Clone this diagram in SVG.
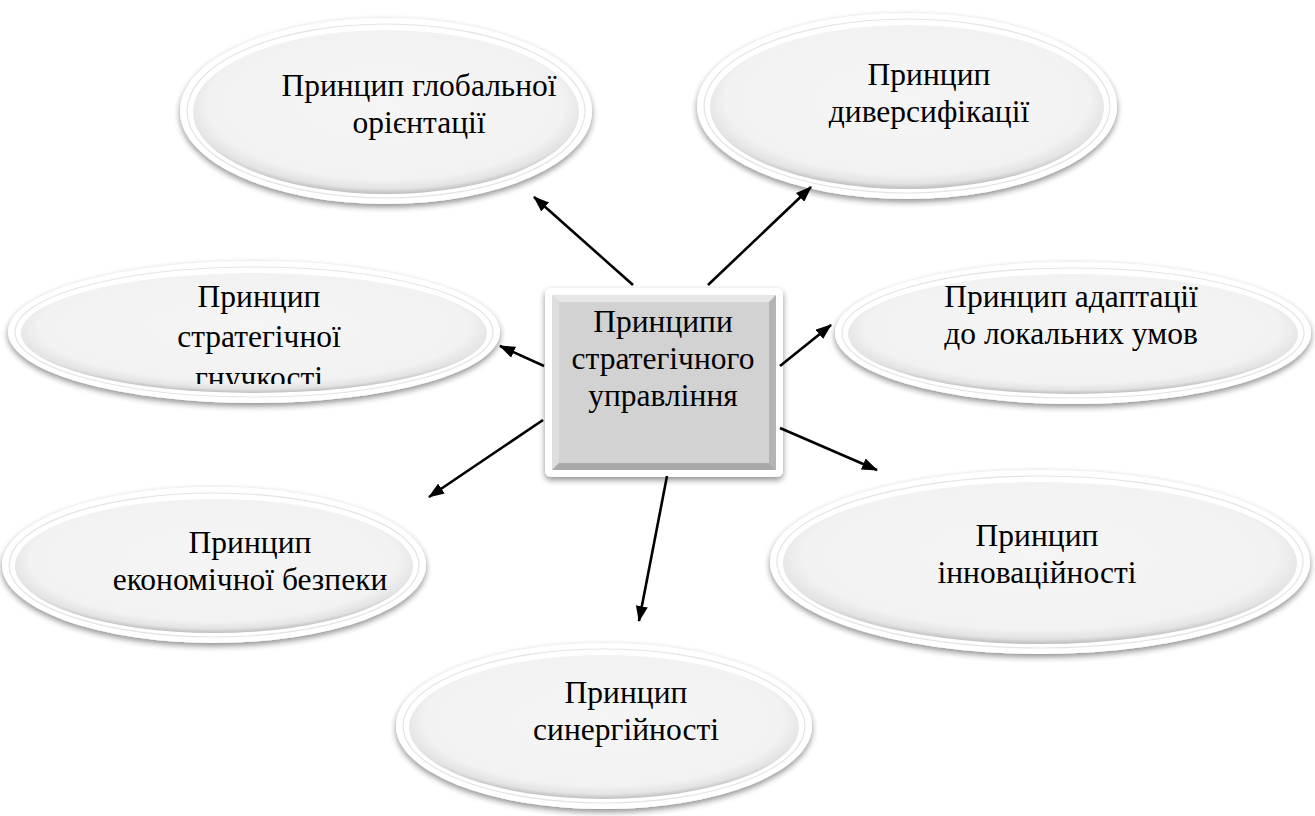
<svg xmlns="http://www.w3.org/2000/svg" width="1315" height="816" viewBox="0 0 1315 816">
<style>
.lbl{font-family:'Liberation Serif','DejaVu Serif',serif;font-size:31.5px;fill:#000;text-anchor:middle}
.outer{fill:#fff;filter:url(#sh)}
.ring{fill:none;stroke:#e4e4e4;stroke-width:1.2}
.inner{fill:url(#eg)}
.arr{stroke:#000;stroke-width:2.6;fill:none;marker-end:url(#ah)}
</style>
<defs>
<filter id="sh" x="-10%" y="-10%" width="120%" height="130%">
<feGaussianBlur in="SourceAlpha" stdDeviation="3"/>
<feOffset dx="0" dy="3" result="b"/>
<feComponentTransfer><feFuncA type="linear" slope="0.45"/></feComponentTransfer>
<feMerge><feMergeNode/><feMergeNode in="SourceGraphic"/></feMerge>
</filter>
<radialGradient id="eg" cx="0.5" cy="0.45" r="0.55">
<stop offset="0" stop-color="#f5f5f5"/>
<stop offset="0.84" stop-color="#f2f2f2"/>
<stop offset="0.94" stop-color="#e3e3e3"/>
<stop offset="1" stop-color="#bdbdbd"/>
</radialGradient>
<marker id="ah" viewBox="0 0 16 12" refX="15" refY="6" markerWidth="16" markerHeight="12" markerUnits="userSpaceOnUse" orient="auto">
<path d="M0,0 L16,6 L0,12 Z" fill="#000"/>
</marker>
<clipPath id="c3"><rect x="0" y="250" width="520" height="134"/></clipPath>
</defs>
<rect width="1315" height="816" fill="#fff"/>

<g id="e1">
<ellipse class="outer" cx="386" cy="111" rx="206" ry="93"/>
<ellipse class="ring" cx="386" cy="111" rx="199" ry="87"/>
<ellipse class="inner" cx="386" cy="112" rx="193" ry="82"/>
<text class="lbl" x="419" y="96">Принцип глобальної</text>
<text class="lbl" x="419" y="133">орієнтації</text>
</g>

<g id="e2">
<ellipse class="outer" cx="907" cy="106" rx="210" ry="93"/>
<ellipse class="ring" cx="907" cy="106" rx="203" ry="87"/>
<ellipse class="inner" cx="907" cy="107" rx="197" ry="82"/>
<text class="lbl" x="929" y="85">Принцип</text>
<text class="lbl" x="929" y="122">диверсифікації</text>
</g>

<g id="e3">
<ellipse class="outer" cx="254" cy="332" rx="246" ry="71"/>
<ellipse class="ring" cx="254" cy="332" rx="239" ry="65"/>
<ellipse class="inner" cx="254" cy="333" rx="233" ry="60"/>
<g clip-path="url(#c3)">
<text class="lbl" x="259" y="307">Принцип</text>
<text class="lbl" x="259" y="347">стратегічної</text>
<text class="lbl" x="259" y="388">гнучкості</text>
</g>
</g>

<g id="e4">
<ellipse class="outer" cx="1073" cy="333" rx="238" ry="71"/>
<ellipse class="ring" cx="1073" cy="333" rx="231" ry="65"/>
<ellipse class="inner" cx="1073" cy="334" rx="225" ry="60"/>
<text class="lbl" x="1071" y="307">Принцип адаптації</text>
<text class="lbl" x="1071" y="344">до локальних умов</text>
</g>

<g id="e5">
<ellipse class="outer" cx="214" cy="565" rx="212" ry="78"/>
<ellipse class="ring" cx="214" cy="565" rx="205" ry="72"/>
<ellipse class="inner" cx="214" cy="566" rx="199" ry="67"/>
<text class="lbl" x="250" y="553">Принцип</text>
<text class="lbl" x="250" y="590">економічної безпеки</text>
</g>

<g id="e6">
<ellipse class="outer" cx="1040" cy="562" rx="270" ry="92"/>
<ellipse class="ring" cx="1040" cy="562" rx="263" ry="86"/>
<ellipse class="inner" cx="1040" cy="563" rx="257" ry="81"/>
<text class="lbl" x="1037" y="546">Принцип</text>
<text class="lbl" x="1037" y="583">інноваційності</text>
</g>

<g id="e7">
<ellipse class="outer" cx="604" cy="726" rx="208" ry="83"/>
<ellipse class="ring" cx="604" cy="726" rx="201" ry="77"/>
<ellipse class="inner" cx="604" cy="727" rx="195" ry="72"/>
<text class="lbl" x="626" y="703">Принцип</text>
<text class="lbl" x="626" y="740">синергійності</text>
</g>

<g id="center">
<rect x="545" y="288" width="238" height="189" rx="6" fill="#fff" filter="url(#sh)"/>
<rect x="552" y="295" width="224" height="175" fill="#d2d2d2"/>
<polygon points="552,295 776,295 769,302 559,302" fill="#e6e6e6"/>
<polygon points="552,295 559,302 559,463 552,470" fill="#dedede"/>
<polygon points="776,295 776,470 769,463 769,302" fill="#b4b4b4"/>
<polygon points="552,470 559,463 769,463 776,470" fill="#a9a9a9"/>
<text class="lbl" x="663" y="332">Принципи</text>
<text class="lbl" x="663" y="369">стратегічного</text>
<text class="lbl" x="663" y="406">управління</text>
</g>

<g id="connectors">
<line class="arr" x1="633" y1="285" x2="534" y2="197"/>
<line class="arr" x1="708" y1="285" x2="811" y2="187"/>
<line class="arr" x1="544" y1="366" x2="500" y2="346"/>
<line class="arr" x1="780" y1="366" x2="831" y2="325"/>
<line class="arr" x1="543" y1="420" x2="429" y2="497"/>
<line class="arr" x1="780" y1="428" x2="877" y2="470"/>
<line class="arr" x1="667" y1="476" x2="639" y2="621"/>
</g>
</svg>
